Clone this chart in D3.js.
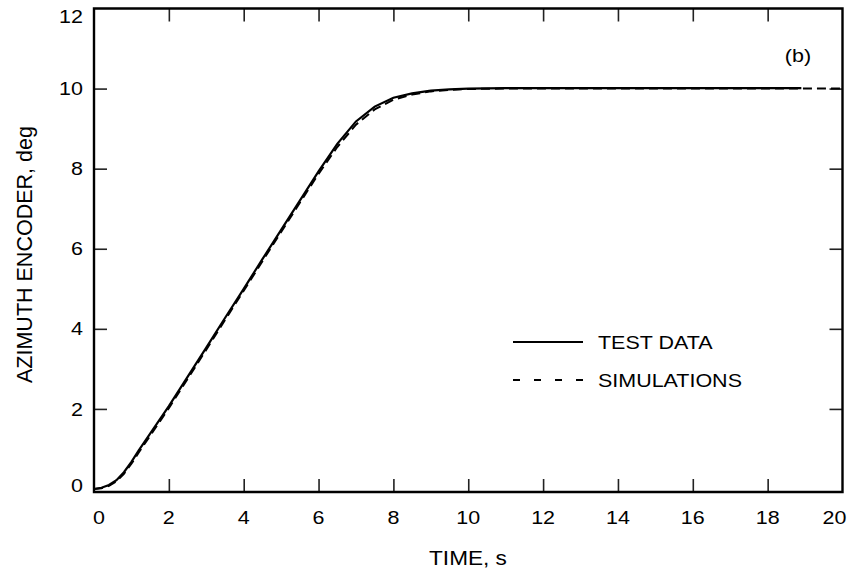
<!DOCTYPE html>
<html><head><meta charset="utf-8">
<script src="https://cdn.jsdelivr.net/npm/d3@7"></script>
<style>
body{margin:0;background:#fff}
text{font-family:"Liberation Sans",Arial,Helvetica,sans-serif;fill:#000}
</style>
</head><body>
<svg id="c" width="849" height="575"></svg>
<script>
// ---- data ----
const testTime = [0,0.2,0.4,0.6,0.8,1.0,1.2,1.5,2,2.5,3,3.5,4,4.5,5,5.5,6,6.5,7,7.5,8,8.5,9,9.5,10,11,12,13,14,15,16,17,18,18.9];
const testData = [0,0.03,0.1,0.22,0.42,0.68,0.97,1.38,2.07,2.8,3.53,4.27,5.0,5.74,6.47,7.2,7.93,8.62,9.18,9.55,9.77,9.88,9.95,9.98,10.0,10.01,10.01,10.01,10.01,10.01,10.01,10.01,10.01,10.01];
const simTime = [0,0.2,0.4,0.6,0.8,1.0,1.2,1.5,2,2.5,3,3.5,4,4.5,5,5.5,6,6.5,7,7.5,8,8.5,9,9.5,10,11,12,13,14,15,16,17,18,19,20];
const simData = [0,0.02,0.08,0.19,0.38,0.63,0.92,1.33,2.02,2.75,3.48,4.22,4.95,5.69,6.42,7.15,7.87,8.54,9.1,9.48,9.72,9.85,9.93,9.97,9.99,10,10,10,10,10,10,10,10,10,10];
const xTicks = [0,2,4,6,8,10,12,14,16,18,20];
const yTicks = [0,2,4,6,8,10,12];
const legendLabels = ["TEST DATA","SIMULATIONS"];
const panelLabel = "(b)";
const xTitle = "TIME, s";
const yTitle = "AZIMUTH ENCODER, deg";

// ---- layout ----
const L = 94, R = 842.5, T = 8.5, B = 492;
const svg = d3.select("#c");
const x = d3.scaleLinear().domain([0,20]).range([94,842.5]);
const y = d3.scaleLinear().domain([0,12]).range([489,8.5]);
const STRETCH = 1.13;
const TL = 13;

const inner = xTicks.filter(d => d>0 && d<20);
const innerY = yTicks.filter(d => d>0 && d<12);
function styleAxis(g){
  g.select(".domain").remove();
  g.selectAll("line").attr("stroke","#222").attr("stroke-width",1.6);
  g.selectAll("text").remove();
}
svg.append("g").attr("transform",`translate(0,${B})`)
  .call(d3.axisBottom(x).tickValues(inner).tickSizeInner(-TL).tickSizeOuter(0)).call(styleAxis);
svg.append("g").attr("transform",`translate(0,${T})`)
  .call(d3.axisTop(x).tickValues(inner).tickSizeInner(-TL).tickSizeOuter(0)).call(styleAxis);
svg.append("g").attr("transform",`translate(${L},0)`)
  .call(d3.axisLeft(y).tickValues(innerY).tickSizeInner(-TL).tickSizeOuter(0)).call(styleAxis);
svg.append("g").attr("transform",`translate(${R},0)`)
  .call(d3.axisRight(y).tickValues(innerY).tickSizeInner(-TL).tickSizeOuter(0)).call(styleAxis);

const fs = 19;
svg.append("g").selectAll("text").data(xTicks).join("text")
  .attr("class","st")
  .attr("x", d => x(d) + (d===0 ? 5 : d===20 ? -8 : 0))
  .attr("y", 524)
  .attr("text-anchor","middle")
  .attr("font-size",fs)
  .text(d => d);
svg.append("g").selectAll("text").data(yTicks).join("text")
  .attr("class","st")
  .attr("x", 83)
  .attr("y", d => y(d) + (d===12 ? 7.5 : d===0 ? -4 : 0))
  .attr("dy","0.35em")
  .attr("text-anchor","end")
  .attr("font-size",fs)
  .text(d => d);

const line = d3.line().x(d => x(d[0])).y(d => y(d[1]));
svg.append("path")
  .datum(simTime.map((t,i)=>[t,simData[i]]))
  .attr("d", line).attr("fill","none").attr("stroke","#000")
  .attr("stroke-width",2).attr("stroke-dasharray","9,5");
svg.append("path")
  .datum(testTime.map((t,i)=>[t,testData[i]]))
  .attr("d", line).attr("fill","none").attr("stroke","#000")
  .attr("stroke-width",2.2);

svg.append("path")
  .attr("d",`M${L},${T}H${R}V${B}H${L}Z`)
  .attr("fill","none").attr("stroke","#000").attr("stroke-width",2.4);

svg.append("line").attr("x1",513).attr("x2",583).attr("y1",342).attr("y2",342)
  .attr("stroke","#000").attr("stroke-width",2.2);
svg.append("line").attr("x1",513).attr("x2",583).attr("y1",380).attr("y2",380)
  .attr("stroke","#000").attr("stroke-width",2).attr("stroke-dasharray","7,14");
svg.append("text").attr("class","st").attr("x",598).attr("y",349).attr("font-size",fs).text(legendLabels[0]);
svg.append("text").attr("class","st").attr("x",598).attr("y",387).attr("font-size",fs).text(legendLabels[1]);

svg.append("text").attr("class","st").attr("x",798).attr("y",62).attr("text-anchor","middle")
  .attr("font-size",fs).text(panelLabel);

svg.append("text").attr("class","st").attr("x",468).attr("y",565).attr("text-anchor","middle")
  .attr("font-size",20).text(xTitle);
svg.append("text").attr("transform","translate(32,383) rotate(-90)").attr("text-anchor","start")
  .attr("font-size",21.5).text(yTitle);

svg.selectAll("text.st").each(function(){
  const len = this.getComputedTextLength();
  d3.select(this).attr("textLength", len*STRETCH).attr("lengthAdjust","spacingAndGlyphs");
});
</script>
</body></html>
